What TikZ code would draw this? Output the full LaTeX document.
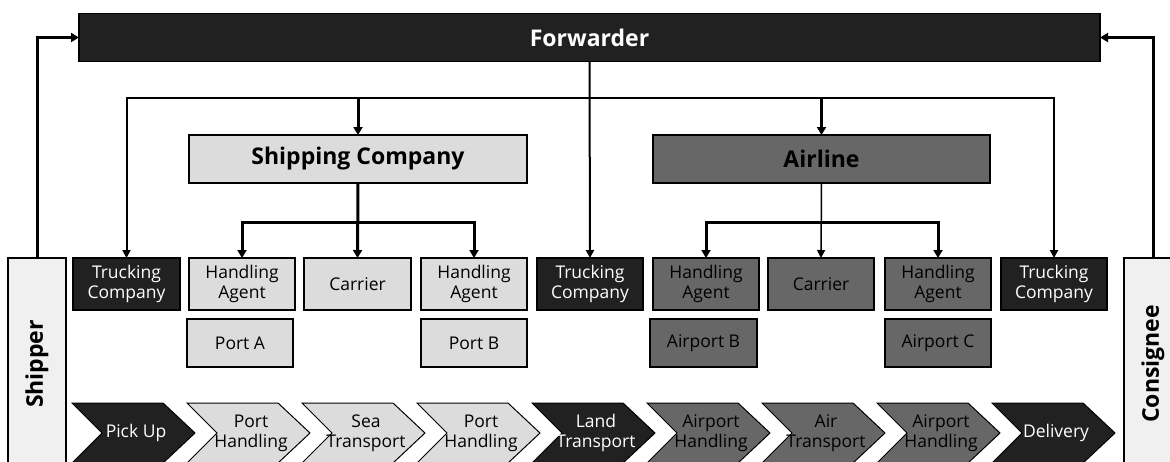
\documentclass[tikz,border=0pt]{standalone}
\usepackage{fontspec}
\setmainfont{Open Sans}
\usetikzlibrary{arrows.meta}
\definecolor{dk}{HTML}{212121}
\definecolor{lt}{HTML}{DCDCDC}
\definecolor{md}{HTML}{676767}
\definecolor{pale}{HTML}{F0F0F0}
\tikzset{
  box/.style={draw=black, line width=1.2pt, inner sep=0pt, outer sep=0pt, minimum height=52pt, align=center, font=\fontsize{17.5}{20}\selectfont},
  dkbox/.style={box, fill=dk, text=white},
  ltbox/.style={box, fill=lt},
  mdbox/.style={box, fill=md, text=black},
  lowbox/.style={minimum height=48pt},
  headbox/.style={draw=black, line width=1.2pt, inner sep=0pt, outer sep=0pt, minimum height=48pt, font=\bfseries\fontsize{23}{25}\selectfont},
  sidebox/.style={draw=black, line width=1.2pt, fill=pale, rotate=90, minimum width=212pt, minimum height=58pt, inner sep=0pt, outer sep=0pt, font=\bfseries\fontsize{23}{25}\selectfont},
  conn/.style={line width=2pt, -{Triangle[length=8pt,width=8pt]}},
  bigconn/.style={line width=3pt, -{Triangle[length=8pt,width=9pt]}},
  chev/.style={draw=black, line width=1pt},
  chevtext/.style={align=center, font=\fontsize{17.5}{20}\selectfont}
}
\begin{document}
\begin{tikzpicture}[x=1pt,y=-1pt]
\useasboundingbox (0,0) rectangle (1170,461);
\clip (0,0) rectangle (1170,461);

% top
\node[headbox, fill=dk, text=white, minimum width=1021pt] (fwd) at (589.5,37.5) {Forwarder};
\node[headbox, fill=lt, minimum width=338pt] (ship) at (358,159) {Shipping Company};
\node[headbox, fill=md, minimum width=337pt] (air) at (821.5,159) {Airline};

% row 1
\node[dkbox, minimum width=107pt] (tc1) at (126.5,284) {Trucking\\Company};
\node[ltbox, minimum width=106pt] (ha1) at (242,284) {Handling\\Agent};
\node[ltbox, minimum width=107pt] (car1) at (357.5,284) {Carrier};
\node[ltbox, minimum width=106pt] (ha2) at (474,284) {Handling\\Agent};
\node[dkbox, minimum width=106pt] (tc2) at (590,284) {Trucking\\Company};
\node[mdbox, minimum width=106pt] (ha3) at (706,284) {Handling\\Agent};
\node[mdbox, minimum width=106pt] (car2) at (821,284) {Carrier};
\node[mdbox, minimum width=106pt] (ha4) at (938,284) {Handling\\Agent};
\node[dkbox, minimum width=106pt] (tc3) at (1054,284) {Trucking\\Company};

% row 2
\node[ltbox, lowbox, minimum width=106pt] (pa) at (240,343) {Port A};
\node[ltbox, lowbox, minimum width=106pt] (pb) at (474,343) {Port B};
\node[mdbox, lowbox, minimum width=107pt] (ab) at (703.5,343) {Airport B};
\node[mdbox, lowbox, minimum width=106pt] (ac) at (938,343) {Airport C};

% sides
\node[sidebox] (shp) at (37,364) {Shipper};
\node[sidebox] (cons) at (1153,364) {Consignee};

% chevrons
\foreach \i/\t/\f/\c in {0/{Pick Up}/dk/white, 1/{Port\\Handling}/lt/black, 2/{Sea\\Transport}/lt/black, 3/{Port\\Handling}/lt/black, 4/{Land\\Transport}/dk/white, 5/{Airport\\Handling}/md/black, 6/{Air\\Transport}/md/black, 7/{Airport\\Handling}/md/black, 8/{Delivery}/dk/white}{
  \path[chev, fill=\f] ({72+115*\i},403) -- ++(91,0) -- ++(32,30) -- ++(-32,30) -- ++(-91,0) -- ++(30,-30) -- cycle;
  \node[chevtext, text=\c] (ch\i) at ({72+115*\i+64},433) {\t};
}

% connectors
\coordinate (h) at (590,98);
\coordinate (s) at (358,222);
\draw[bigconn] (shp.east) |- (fwd.west);
\draw[bigconn] (cons.east) |- (fwd.east);
\draw[conn] (fwd.south) -- (tc2.north);
\draw[conn] (h) -| (tc1.north);
\draw[conn] (h) -| (tc3.north);
\draw[bigconn] (ship.north |- h) -- (ship.north);
\draw[bigconn] (air.north |- h) -- (air.north);
\draw[bigconn] (ship.south) -- (car1.north);
\draw[bigconn] (s) -| (ha1.north);
\draw[bigconn] (s) -| (ha2.north);
\draw[line width=1.5pt, -{Triangle[length=8pt,width=8pt]}] (air.south) -- (car2.north);
\draw[bigconn] (air.south |- s) -| (ha3.north);
\draw[bigconn] (air.south |- s) -| (ha4.north);
\end{tikzpicture}
\end{document}
